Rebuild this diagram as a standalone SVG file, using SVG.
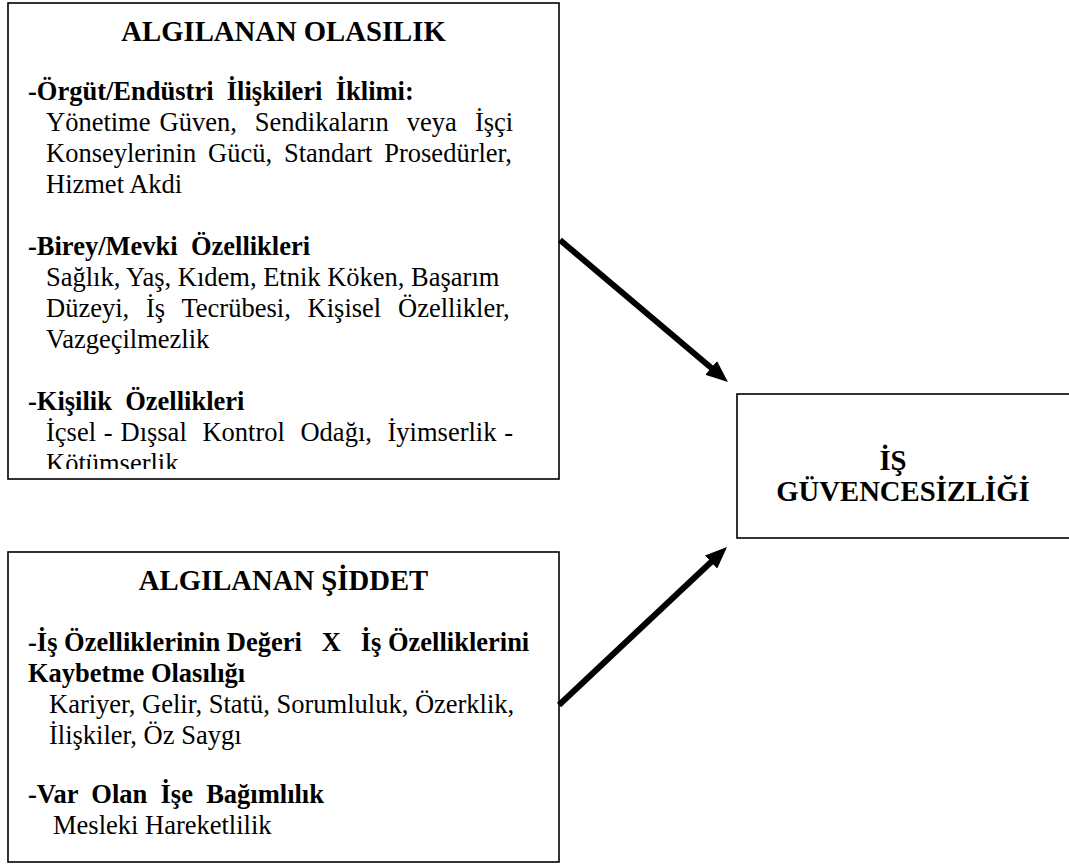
<svg xmlns="http://www.w3.org/2000/svg" width="1069" height="864" viewBox="0 0 1069 864">
  <style>
    .box { fill: #fff; stroke: #000; stroke-width: 1.6; }
    .t { font-family: "Liberation Serif", "Times New Roman", serif; fill: #000; white-space: pre; }
    .title { font-size: 28.7px; font-weight: bold; text-anchor: middle; }
    .h { font-size: 26.5px; font-weight: bold; }
    .b { font-size: 26.5px; }
    .arrow { stroke: #000; stroke-width: 6; fill: none; marker-end: url(#head); }
  </style>
  <defs>
    <marker id="head" viewBox="0 0 22 18" markerWidth="22" markerHeight="18" markerUnits="userSpaceOnUse" refX="10" refY="9" orient="auto">
      <path d="M0,0 L22,9 L0,18 z" fill="#000"/>
    </marker>
    <clipPath id="clipTop">
      <rect x="8" y="3" width="551" height="466"/>
    </clipPath>
  </defs>
  <rect width="1069" height="864" fill="#fff"/>

  <g id="node-olasilik">
    <rect class="box" x="8" y="3" width="551" height="476"/>
    <g clip-path="url(#clipTop)">
      <text class="t title" x="283.5" y="41">ALGILANAN OLASILIK</text>
      <text class="t h" x="28" y="100">-Örgüt/Endüstri  İlişkileri  İklimi:</text>
      <text class="t b" x="46" y="131" word-spacing="2.4">Yönetime Güven,  Sendikaların  veya  İşçi</text>
      <text class="t b" x="46" y="162" word-spacing="5.3">Konseylerinin Gücü, Standart Prosedürler,</text>
      <text class="t b" x="46" y="193">Hizmet Akdi</text>
      <text class="t h" x="28" y="255">-Birey/Mevki  Özellikleri</text>
      <text class="t b" x="46" y="286">Sağlık, Yaş, Kıdem, Etnik Köken, Başarım</text>
      <text class="t b" x="46" y="317" word-spacing="1.8">Düzeyi,  İş  Tecrübesi,  Kişisel  Özellikler,</text>
      <text class="t b" x="46" y="348">Vazgeçilmezlik</text>
      <text class="t h" x="28" y="410">-Kişilik  Özellikleri</text>
      <text class="t b" x="46" y="441" word-spacing="1.2">İçsel - Dışsal  Kontrol  Odağı,  İyimserlik -</text>
      <text class="t b" x="46" y="472">Kötümserlik</text>
    </g>
  </g>

  <g id="node-siddet">
    <rect class="box" x="8" y="552" width="551" height="310"/>
    <text class="t title" x="283.5" y="590">ALGILANAN ŞİDDET</text>
    <text class="t h" x="28" y="651">-İş Özelliklerinin Değeri   X   İş Özelliklerini</text>
    <text class="t h" x="28" y="682">Kaybetme Olasılığı</text>
    <text class="t b" x="49" y="713">Kariyer, Gelir, Statü, Sorumluluk, Özerklik,</text>
    <text class="t b" x="49" y="744">İlişkiler, Öz Saygı</text>
    <text class="t h" x="28" y="803">-Var  Olan  İşe  Bağımlılık</text>
    <text class="t b" x="53" y="834">Mesleki Hareketlilik</text>
  </g>

  <g id="node-is-guvencesizligi">
    <rect class="box" x="737" y="394" width="340" height="144"/>
    <text class="t title" x="893" y="470">İŞ</text>
    <text class="t title" x="903" y="501">GÜVENCESİZLİĞİ</text>
  </g>

  <g id="connectors">
    <line class="arrow" x1="560" y1="240" x2="718.8" y2="374.3"/>
    <line class="arrow" x1="559" y1="705" x2="718.3" y2="555.2"/>
  </g>
</svg>
